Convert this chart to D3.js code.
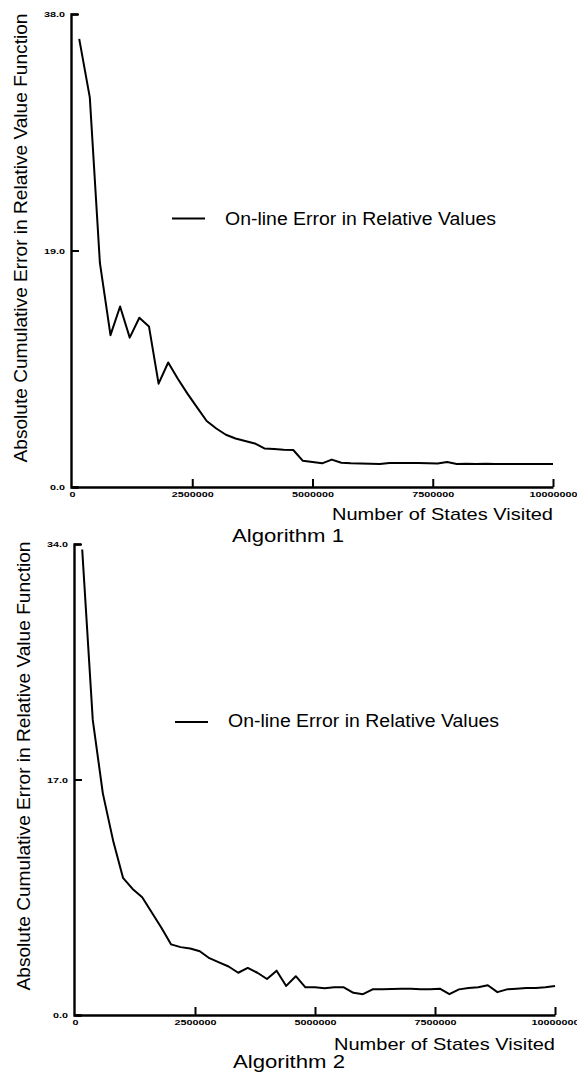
<!DOCTYPE html>
<html><head><meta charset="utf-8">
<script src="https://cdn.jsdelivr.net/npm/d3@7"></script>
<style>body{margin:0;background:#fff}</style></head>
<body><svg id="c" width="577" height="1074" xmlns="http://www.w3.org/2000/svg"></svg>
<script>
// x values: number of states visited (millions)
const statesVisitedM = [0.15,0.37,0.58,0.8,1.0,1.2,1.4,1.6,1.8,2.0,2.2,2.4,2.6,2.8,3.0,3.2,3.4,3.6,3.8,4.0,
  4.2,4.4,4.6,4.8,5.0,5.2,5.4,5.6,5.8,6.0,6.2,6.4,6.6,6.8,7.0,7.2,7.4,7.6,7.8,8.0,
  8.2,8.4,8.6,8.8,9.0,9.2,9.4,9.6,9.8,10.0];
const algo1Error = [36.0,31.3,18.0,12.2,14.5,12.0,13.6,12.9,8.3,10.0,8.7,7.5,6.4,5.3,4.7,4.2,3.9,3.7,3.5,3.1,
  3.05,3.0,2.97,2.1,2.0,1.9,2.2,1.95,1.9,1.88,1.87,1.85,1.93,1.93,1.92,1.92,1.9,1.88,2.0,1.85,
  1.86,1.85,1.86,1.85,1.84,1.85,1.85,1.84,1.85,1.85];
const algo2Error = [33.6,21.3,16.0,12.5,9.9,9.1,8.5,7.4,6.3,5.1,4.9,4.8,4.6,4.1,3.8,3.5,3.05,3.4,3.05,2.6,
  3.2,2.1,2.8,2.0,2.0,1.93,2.0,2.0,1.6,1.5,1.85,1.85,1.87,1.9,1.9,1.85,1.85,1.9,1.5,1.85,
  1.95,2.0,2.15,1.65,1.85,1.9,1.95,1.95,2.0,2.1];
const xTicks = [0, 2500000, 5000000, 7500000, 10000000];
const yTicks1 = [0, 19, 38];
const yTicks2 = [0, 17, 34];
const legendLabel = "On-line Error in Relative Values";
const yTitle = "Absolute Cumulative Error in Relative Value Function";
const xTitle = "Number of States Visited";
const chartTitles = ["Algorithm 1", "Algorithm 2"];

const svg = d3.select("#c");
const FONT = "'Liberation Sans', Arial, Helvetica, sans-serif";

function labelLen(s){ let w=0; for(const ch of s){ w += (ch==='.')?3:6; } return w; }

function drawChart(cfg){
  const x = d3.scaleLinear().domain([0, 10000000]).range(cfg.xr);
  const y = d3.scaleLinear().domain([0, cfg.ymax]).range(cfg.yr);
  const g = svg.append("g");

  const yAxis = d3.axisLeft(y).tickValues(cfg.yTicks).tickSizeInner(-8).tickSizeOuter(-7)
    .tickPadding(6).tickFormat(d3.format(".1f"));
  const ya = g.append("g").attr("transform", `translate(${cfg.xr[0]-1},0)`).call(yAxis);
  const xAxis = d3.axisBottom(x).tickValues(xTicks).tickSizeInner(-8).tickSizeOuter(0)
    .tickPadding(6).tickFormat(d3.format("d"));
  const xa = g.append("g").attr("transform", `translate(0,${cfg.yr[0]})`).call(xAxis);

  [ya, xa].forEach(a => {
    a.select(".domain").attr("stroke", "#000").attr("stroke-width", 2.4);
    a.selectAll(".tick line").attr("stroke", "#000").attr("stroke-width", 2);
    a.selectAll(".tick text").attr("font-family", FONT).attr("font-weight", "bold")
      .attr("font-size", 7.5).attr("fill", "#000")
      .attr("textLength", d => labelLen(a === ya ? d3.format(".1f")(d) : d3.format("d")(d)))
      .attr("lengthAdjust", "spacingAndGlyphs");
  });
  xa.selectAll(".tick").filter(d => d === 0).select("line").remove();
  xa.selectAll(".tick text").attr("dy", "0.5em");
  ya.selectAll(".tick text").attr("dy", "0.35em");

  const line = d3.line().x((d,i) => x(statesVisitedM[i]*1e6)).y(d => y(d));
  g.append("path").datum(cfg.data).attr("d", line).attr("fill", "none")
    .attr("stroke", "#000").attr("stroke-width", 2).attr("stroke-linejoin", "round");

  // legend
  g.append("line").attr("x1", cfg.leg[0]).attr("x2", cfg.leg[0]+33)
    .attr("y1", cfg.leg[1]).attr("y2", cfg.leg[1]).attr("stroke", "#000").attr("stroke-width", 2);
  g.append("text").attr("x", cfg.leg[0]+53).attr("y", cfg.leg[2]).text(legendLabel)
    .attr("font-family", FONT).attr("font-size", 17.5).attr("textLength", 271)
    .attr("lengthAdjust", "spacingAndGlyphs");

  // y title
  g.append("text").attr("transform", `translate(${cfg.yt[0]},${cfg.yt[1]}) rotate(-90)`)
    .attr("text-anchor", "middle").text(yTitle)
    .attr("font-family", FONT).attr("font-size", 19).attr("textLength", 449)
    .attr("lengthAdjust", "spacingAndGlyphs");

  // x title
  g.append("text").attr("x", cfg.xr[1]).attr("y", cfg.xt).attr("text-anchor", "end").text(xTitle)
    .attr("font-family", FONT).attr("font-size", 17).attr("textLength", 221)
    .attr("lengthAdjust", "spacingAndGlyphs");

  // chart title
  g.append("text").attr("x", cfg.ct[0]).attr("y", cfg.ct[1]).attr("text-anchor", "middle").text(cfg.title)
    .attr("font-family", FONT).attr("font-size", 18).attr("textLength", 112)
    .attr("lengthAdjust", "spacingAndGlyphs");
}

drawChart({xr:[72,553], yr:[487,14], ymax:38, yTicks:yTicks1, data:algo1Error,
  leg:[172,218.5,225], yt:[27,238], xt:520, ct:[288,542], title:chartTitles[0]});
drawChart({xr:[75,555], yr:[1015,544], ymax:34, yTicks:yTicks2, data:algo2Error,
  leg:[175,722,727], yt:[30,766], xt:1050, ct:[289,1068], title:chartTitles[1]});
</script></body></html>
